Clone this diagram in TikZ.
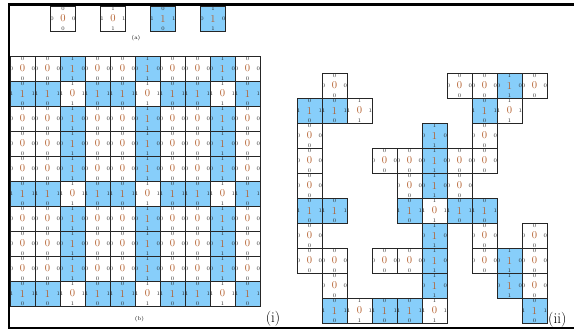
\documentclass[tikz,border=0pt]{standalone}
\usepackage{tikz}
\usepackage{xcolor}
\definecolor{tileblue}{RGB}{135,206,250}
\definecolor{ctrbrown}{RGB}{180,95,45}

% one Wang tile: name, position, fill, centre, north/south, west/east
\newcommand{\wtile}[6]{%
  \node[tile, fill=#3] (#1) at (#2) {#4};
  \node[lab, yshift=-3.2pt] at (#1.north) {#5};
  \node[lab, yshift=2.8pt] at (#1.south) {#5};
  \node[lab, xshift=2pt] at (#1.west) {#6};
  \node[lab, xshift=-2pt] at (#1.east) {#6};
}
\newcommand{\tileA}[2]{\wtile{#1}{#2}{white}{0}{0}{0}}
\newcommand{\tileB}[2]{\wtile{#1}{#2}{white}{0}{1}{1}}
\newcommand{\tileC}[2]{\wtile{#1}{#2}{tileblue}{1}{0}{1}}
\newcommand{\tileD}[2]{\wtile{#1}{#2}{tileblue}{1}{1}{0}}

\begin{document}
\begin{tikzpicture}[x=1pt, y=-1pt,
      tile/.style={draw=black!85, line width=0.8pt, minimum size=25pt,
                   inner sep=0pt, font=\fontsize{10.5}{12}\selectfont, text=ctrbrown},
      lab/.style={inner sep=0pt, font=\fontsize{5.5}{6}\selectfont, text=black!85},
      caption/.style={inner sep=0pt, font=\fontsize{5.5}{6}\selectfont},
      big/.style={inner sep=0pt, font=\fontsize{15}{16}\selectfont},
      frame/.style={line width=2.8pt}]
    \useasboundingbox (0,0) rectangle (574,333);

    % (a) the four tiles
    \tileA{a1}{63,18.5}
    \tileB{a2}{113,18.5}
    \tileC{a3}{163,18.5}
    \tileD{a4}{213,18.5}
    \node[caption] (capa) at (136,38.5) {(a)};

    % (b) a 10x10 tiling
    \foreach \i in {0,...,9}{
      \foreach \j in {0,...,9}{
        \pgfmathtruncatemacro{\k}{2*(mod(\i,3)==2)+(mod(\j,4)==1)}
        \ifcase\k \tileA{g-\i-\j}{22.5+25*\i,68.5+25*\j}
        \or \tileC{g-\i-\j}{22.5+25*\i,68.5+25*\j}
        \or \tileD{g-\i-\j}{22.5+25*\i,68.5+25*\j}
        \or \tileB{g-\i-\j}{22.5+25*\i,68.5+25*\j}
        \fi
      }
    }
    \node[caption] (capb) at (139.5,319) {(b)};
    \node[big] (capi) at (273,318.5) {(i)};

    % (ii) a partial patch
    \foreach \c/\r/\t in {1/0/A, 6/0/A, 7/0/A, 8/0/D, 9/0/A,
        0/1/C, 1/1/C, 2/1/B, 7/1/C, 8/1/B,
        0/2/A, 5/2/D, 7/2/A,
        0/3/A, 3/3/A, 4/3/A, 5/3/D, 6/3/A, 7/3/A,
        0/4/A, 4/4/A, 5/4/D, 6/4/A,
        0/5/C, 1/5/C, 4/5/C, 5/5/B, 6/5/C, 7/5/C,
        0/6/A, 5/6/D, 7/6/A, 9/6/A,
        0/7/A, 1/7/A, 3/7/A, 4/7/A, 5/7/D, 7/7/A, 8/7/D, 9/7/A,
        1/8/A, 5/8/D, 8/8/D, 9/8/A,
        1/9/C, 2/9/B, 3/9/C, 4/9/C, 5/9/B, 9/9/C}
      \csname tile\t\endcsname{p-\c-\r}{309.5+25*\c,85.5+25*\r};
    \node[big, anchor=west] (capii) at (548,319.5) {(ii)};

    % frame
    \draw[frame] (574,4.5) -- (9,4.5) -- (9,328) -- (574,328);
  \end{tikzpicture}
\end{document}
